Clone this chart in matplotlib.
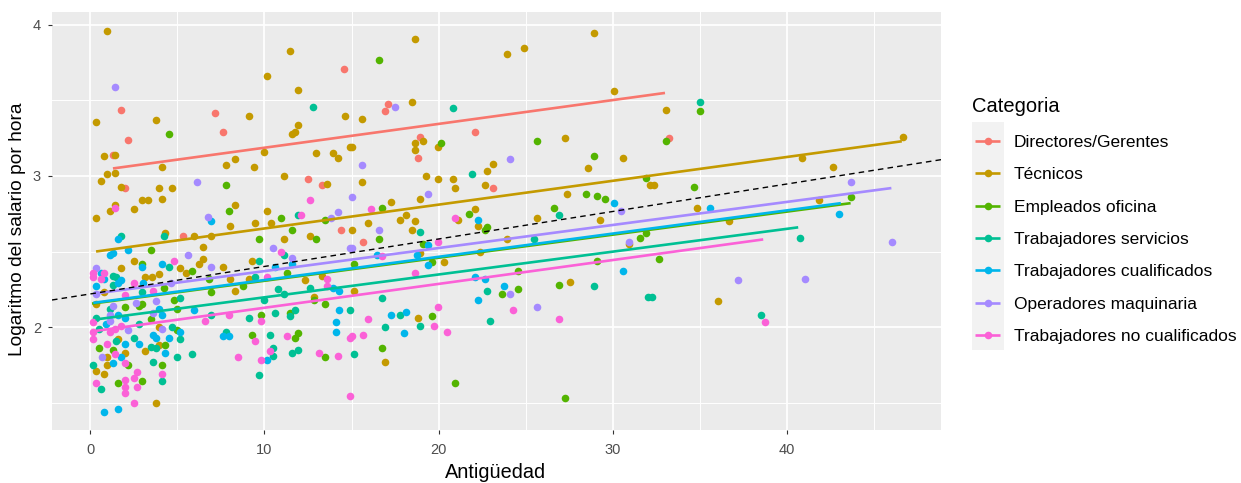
import matplotlib
matplotlib.use("Agg")
import matplotlib.pyplot as plt
from matplotlib.patches import Rectangle

plt.rcParams["font.family"] = ["Liberation Sans", "DejaVu Sans"]

categories = ["Directores/Gerentes", "Técnicos", "Empleados oficina", "Trabajadores servicios",
              "Trabajadores cualificados", "Operadores maquinaria", "Trabajadores no cualificados"]
colors = ["#F8766D", "#C49A00", "#53B400", "#00C094", "#00B6EB", "#A58AFF", "#FB61D7"]

# -------------------------
# Points
# -------------------------
dir_pts = [(1.76,3.44),(7.16,3.42),(14.58,3.71),(7.64,3.29),(2.16,3.24),(1.32,3.14),(2.0,2.92),(12.5,2.98),
           (13.3,2.94),(17.09,3.48),(16.93,3.43),(18.93,3.26),(18.79,3.12),(22.09,3.29),(23.14,2.92),
           (5.31,2.6),(14.42,2.64),(15.65,2.56),(33.24,3.25)]
tec_pts = [(0.96,3.96),(11.44,3.83),(10.15,3.66),(11.92,3.57),(0.33,3.36),(3.77,3.37),(9.1,3.40),(11.9,3.34),
           (11.76,3.29),(11.6,3.28),(14.6,3.40),(0.8,3.13),(1.44,3.14),(4.12,3.06),(9.98,3.16),(8.3,3.11),
           (7.8,3.07),(9.4,3.06),(12.97,3.15),(13.93,3.15),(14.25,3.12),(14.9,3.19),(11.1,3.0),(0.96,3.01),
           (1.44,3.02),(0.63,2.97),(1.76,2.93),(3.97,2.92),(4.67,2.92),(4.12,2.85),(2.97,2.84),(3.3,2.84),
           (13.6,2.95),(2.49,2.78),(1.13,2.77),(1.44,2.81),(0.33,2.72),(8.3,2.81),(10.15,2.77),
           (18.62,3.91),(23.95,3.81),(24.9,3.85),(28.93,3.95),(30.06,3.56),(18.45,3.49),(15.63,3.38),(15,3.19),
           (18.62,3.22),(19.1,3.23),(18.62,3.17),(19.98,3.19),(27.24,3.25),(30.6,3.12),(28.6,3.05),(19.27,3.0),
           (19.98,2.98),(20.8,2.98),(20.96,2.92),(23.14,3.08),(22.8,3.03),(22.64,2.94),(15.63,2.96),(17.26,2.83),
           (18.95,2.85),(27.4,2.88),(32.15,2.94),(18.12,2.74),(17.8,2.71),(22.1,2.78),(25.63,2.72),(29.25,2.71),
           (4.27,2.62),(8,2.67),(9.43,2.69),(10.38,2.69),(12.64,2.6),(6.46,2.53),(5.96,2.6),(6.95,2.6),(11.1,2.58),
           (2.49,2.44),(1.78,2.39),(5.15,2.39),(5.48,2.36),(6.46,2.45),(6.26,2.42),(7.64,2.4),(9.27,2.44),
           (3.16,2.33),(3.54,2.33),(3.97,2.35),(8,2.32),(9.1,2.32),(8.31,2.24),(12.34,2.31),(12.82,2.2),(13.3,2.34),
           (3.97,2.0),(3.97,1.88),(1.6,1.92),(3.16,1.84),(2.0,1.83),(0.96,1.8),(0.96,1.75),(0.33,1.71),(0.8,1.69),
           (3.77,1.5),(0.33,2.15),(0.8,2.23),(15,2.64),(15.96,2.69),(18.45,2.64),(18.62,2.7),(22.28,2.67),
           (23.95,2.58),(20.33,2.43),(18.93,2.49),(15.13,2.24),(18.79,2.06),(27.55,2.3),(16.93,1.77),(30.96,2.55),
           (22.4,2.5),(21.11,2.71),(33.07,3.44),(32.36,2.94),(34.85,2.79),(36.7,2.7),(40.88,3.12),(42.66,3.06),
           (41.86,2.84),(36.05,2.17),(46.69,3.26)]
emp_pts = [(4.52,3.28),(7.82,2.94),(7.99,2.77),(10.96,2.72),(13.45,2.71),(16.6,3.77),(20.15,3.22),(25.63,3.23),
           (28.93,3.13),(28.45,2.88),(29.1,2.87),(29.58,2.85),(31.9,2.99),(16.76,2.79),(26.6,2.79),(21.76,2.75),
           (3.47,2.51),(9.66,2.58),(11.6,2.64),(12.97,2.58),(2.97,2.42),(5.82,2.37),(6.8,2.32),(4.25,2.26),
           (6.93,2.23),(8.79,2.27),(4.83,2.18),(4.96,2.12),(2.01,2.13),(2.78,2.14),(2.97,2.15),(11.28,2.36),
           (13.45,2.15),(12.82,2.18),(9.83,2.08),(11.44,2.09),(9.27,1.95),(11.92,1.96),(11.78,1.93),(0.5,1.86),
           (4.29,1.88),(13.45,1.8),(4.12,1.75),(2.18,1.75),(2.97,1.64),(1.6,1.63),(1.28,1.85),(4.96,1.98),(3.49,2.05),
           (16.6,2.58),(19.1,2.55),(15.15,2.42),(19.6,2.43),(22.64,2.64),(22.8,2.66),(31.57,2.59),(31.9,2.62),
           (29.1,2.44),(24.58,2.37),(26.92,2.28),(23.62,2.22),(24.58,2.25),(19.6,2.07),(16.76,1.86),(20.96,1.63),
           (27.24,1.53),(35,3.43),(33.07,3.23),(34.67,2.93),(43.7,2.86),(32.66,2.45)]
ser_pts = [(12.8,3.46),(11.9,2.74),(20.8,3.45),(21.9,3.01),(26.9,2.74),(1.76,2.6),(4.25,2.6),(1.28,2.34),(1.46,2.33),
           (1.28,2.28),(11.1,2.48),(9.66,2.44),(4.52,2.4),(9.43,2.33),(10.8,2.25),(11.1,2.22),(12.64,2.26),(10,2.18),
           (2.99,2.23),(5.15,2.19),(1.11,2.12),(11.76,2.11),(10.63,2.09),(9.1,2.06),(11.44,2.07),(6.92,2.08),
           (0.33,2.06),(0.48,1.99),(2.82,2.02),(4.69,2.0),(7.82,1.97),(10.3,1.95),(5.15,1.92),(2.49,1.93),(3.47,1.87),
           (3.77,1.86),(10.48,1.86),(10.48,1.81),(11.92,1.85),(11.6,1.83),(5,1.8),(5.82,1.82),(3.62,1.77),(0.17,1.75),
           (4.12,1.64),(0.63,1.59),(9.66,1.68),(1.46,1.91),(18.93,2.63),(25.48,2.58),(16.76,2.19),(22.8,2.24),
           (28.93,2.27),(32,2.2),(17.8,2.08),(18.93,2.01),(16.93,2.0),(22.97,2.04),(15.15,1.82),(14.9,2.11),
           (35,3.49),(40.73,2.59),(38.54,2.08),(32.26,2.2)]
cua_pts = [(6.95,2.70),(30.06,2.82),(1.61,2.58),(2.16,2.51),(1.15,2.48),(1.28,2.49),(4.12,2.42),(2.97,2.4),(10.63,2.4),
           (11.6,2.42),(0.61,2.36),(0.8,2.32),(0.33,2.27),(1.76,2.31),(1.6,2.29),(3,2.29),(3.97,2.12),(4.12,2.08),
           (1.61,2.08),(5.96,2.11),(14.27,2.11),(14.1,2.03),(14.1,1.97),(5.15,1.97),(3.62,1.95),(3.77,1.93),(4.52,1.93),
           (7.64,1.94),(7.99,1.94),(2.01,1.89),(2.82,1.89),(4.29,1.83),(1.76,1.8),(1.28,1.76),(10.15,1.78),(0.8,1.44),
           (1.61,1.46),(13.95,2.26),(14.27,2.24),(2,2.06),(0.9,2.02),(19.42,2.54),(22.26,2.71),(16.44,2.48),(18.74,2.48),
           (19.42,2.41),(22.09,2.33),(22.64,2.32),(23.77,2.27),(22.26,2.18),(30.61,2.37),(17.26,2.08),(18.14,2.1),
           (17.99,1.96),(35.57,2.79),(42.97,2.75)]
ope_pts = [(1.44,3.59),(6.13,2.96),(6.76,2.73),(14.25,2.76),(15,2.86),(13.8,2.72),(17.49,3.46),(15.63,3.07),(19.42,2.88),
           (24.1,3.11),(30.46,2.77),(5.63,2.48),(10.48,2.52),(11.6,2.46),(6.93,2.4),(0.33,2.39),(1.28,2.14),(3.77,2.17),
           (3.62,2.09),(1.11,2.08),(2.62,2.16),(4.12,1.99),(2.14,1.98),(0.67,1.8),(0.3,2.22),(4.65,2.29),(14.9,2.52),
           (1.13,2.04),(15,2.52),(16.6,2.64),(24.1,2.22),(25.63,2.13),(30.96,2.56),(43.7,2.96),(46.03,2.56),(37.18,2.31),
           (41.05,2.32)]
noc_pts = [(1.44,2.79),(12.64,2.84),(12.07,2.74),(16.13,2.78),(20.96,2.72),(4.83,2.44),(10.96,2.5),(0.17,2.36),(0.17,2.33),
           (0.8,2.36),(0.61,2.32),(2.49,2.29),(3.62,2.24),(2.01,2.21),(10.13,2.33),(13.62,2.32),(13.62,2.27),(6.61,2.04),
           (7.99,2.08),(9.83,2.04),(0.17,2.03),(0.17,1.97),(0.17,1.92),(1.15,1.97),(1.44,1.99),(1.76,2.01),(0.96,1.89),
           (1.44,1.82),(2.01,1.76),(2.66,1.7),(2.49,1.66),(2.01,1.65),(0.33,1.63),(2.01,1.6),(2.66,1.6),(2.01,1.56),
           (2.49,1.5),(4.12,1.69),(9.43,1.91),(11.28,1.94),(8.47,1.8),(9.83,1.78),(10.29,1.84),(13.12,1.83),(14.25,1.81),
           (14.9,1.93),(14.9,1.54),(19.98,2.56),(16.76,2.47),(18.62,2.36),(19.98,2.13),(24.25,2.11),(26.92,2.05),
           (15.96,2.05),(15.65,1.95),(15,1.94),(19.75,2.01),(20.48,1.97),(38.72,2.03)]
all_pts = [dir_pts, tec_pts, emp_pts, ser_pts, cua_pts, ope_pts, noc_pts]

# regression line ends per category
line_x0 = [1.3, 0.33, 0.1, 0.3, 0.17, 0.17, 0.04]
line_x1 = [33.0, 46.6, 43.66, 40.65, 43.1, 46.0, 38.64]
line_y0 = [3.05, 2.50, 2.155, 2.05, 2.16, 2.22, 1.97]
line_y1 = [3.55, 3.23, 2.82, 2.66, 2.82, 2.92, 2.58]

# overall fit (dashed)
abline_intercept = 2.219
abline_slope = 0.0182

x_major = [0, 10, 20, 30, 40]
x_minor = [5, 15, 25, 35, 45]
y_major = [2, 3, 4]
y_minor = [1.5, 2.5, 3.5]

W, H = 1241, 483
fig = plt.figure(figsize=(W / 100, H / 100), dpi=100, facecolor="white")
ax = fig.add_axes([52 / W, 1 - 430 / H, (941 - 52) / W, (430 - 12) / H])
ax.set_facecolor("#EBEBEB")
xlim = (-2.2, 48.85)
ax.set_xlim(*xlim)
ax.set_ylim(1.318, 4.086)
for s in ax.spines.values():
    s.set_visible(False)

ax.set_xticks(x_major)
ax.set_yticks(y_major)
ax.set_xticks(x_minor, minor=True)
ax.set_yticks(y_minor, minor=True)
ax.grid(True, which="major", color="white", lw=1.25)
ax.grid(True, which="minor", color="white", lw=0.7)
ax.set_axisbelow(True)
ax.tick_params(axis="x", which="major", length=3, width=0.8, color="#333333", labelcolor="#4D4D4D",
               labelsize=10.5, pad=6)
ax.tick_params(axis="y", which="major", length=3, width=0.8, color="#333333", labelcolor="#4D4D4D",
               labelsize=10.5, pad=5)
ax.tick_params(which="minor", length=0)

for pts, c in zip(all_pts, colors):
    ax.scatter([p[0] for p in pts], [p[1] for p in pts], s=30, color=c, linewidths=0, zorder=3)
for i, c in enumerate(colors):
    ax.plot([line_x0[i], line_x1[i]], [line_y0[i], line_y1[i]], color=c, lw=1.9, zorder=4, solid_capstyle="butt")
ax.plot(xlim, [abline_intercept + abline_slope * v for v in xlim], color="black", lw=1.0,
        dashes=(4, 3), zorder=5)

# legend and axis titles drawn by hand, in pixel coordinates
leg = fig.add_axes([0, 0, 1, 1], facecolor="none")
leg.set_xlim(0, W)
leg.set_ylim(H, 0)
leg.axis("off")
leg.text(496, 472, "Antigüedad", fontsize=14.3, va="center", ha="center", color="black")
leg.text(18, 229, "Logaritmo del salario por hora", fontsize=13.8, va="center", ha="center",
         rotation=90, color="black")
leg.text(972, 106, "Categoria", fontsize=14.5, va="center", ha="left", color="black")
leg.add_patch(Rectangle((972, 122), 32, 228, facecolor="#F2F2F2", edgecolor="none"))
for i, (name, c) in enumerate(zip(categories, colors)):
    y = 141 + i * 32.33
    leg.plot([975, 1000], [y, y], color=c, lw=1.9, solid_capstyle="butt")
    leg.scatter([988], [y], s=30, color=c, linewidths=0, zorder=3)
    leg.text(1014, y, name, fontsize=12.5, va="center_baseline", ha="left", color="black")

fig.savefig("out.png", dpi=100)
